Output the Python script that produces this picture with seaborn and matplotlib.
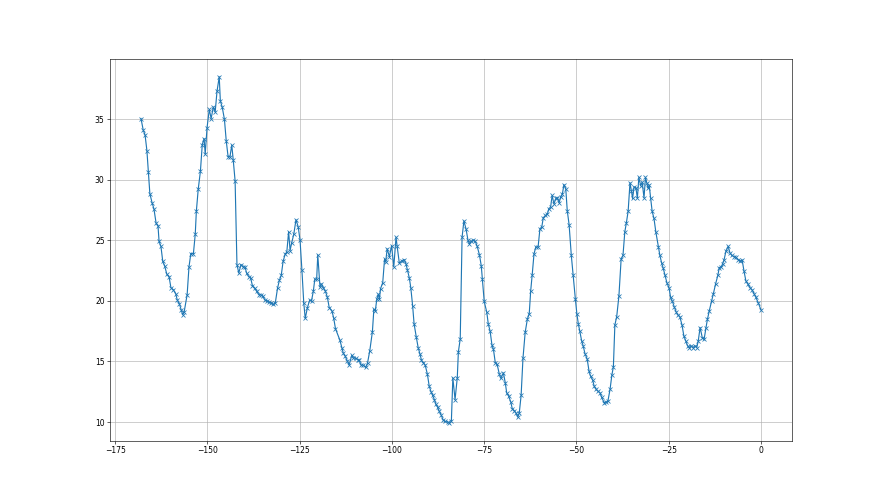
import matplotlib
matplotlib.use("Agg")
import matplotlib.pyplot as plt
import seaborn as sns

# hours before now (x) and reading (y)
hours = [
    -168.0, -167.4, -166.9, -166.4, -166.0, -165.6, -165.0, -164.5, -163.9, -163.4,
    -163.1, -162.6, -162.1, -161.6, -161.0, -160.4, -159.9, -159.2, -158.6, -158.2,
    -157.6, -157.1, -156.7, -156.3, -155.5, -155.0, -154.5, -153.8, -153.3, -153.0,
    -152.5, -151.9, -151.4, -150.9, -150.6, -150.1, -149.5, -149.0, -148.4, -147.9,
    -147.4, -146.8, -146.5, -146.0, -145.4, -144.9, -144.4, -143.9, -143.4, -143.0,
    -142.5, -142.0, -141.5, -140.9, -140.3, -139.8, -139.4, -138.8, -138.3, -137.8,
    -137.2, -136.7, -136.0, -135.6, -135.0, -134.4, -133.8, -133.3, -132.7, -132.2,
    -131.6, -131.0, -130.5, -130.0, -129.5, -128.9, -128.5, -128.0, -127.6, -127.2,
    -126.6, -126.0, -125.4, -124.9, -124.4, -123.9, -123.5, -122.9, -122.3, -121.8,
    -121.3, -120.9, -120.4, -120.1, -119.5, -119.1, -118.6, -118.1, -117.5, -117.0,
    -116.3, -115.8, -115.3, -114.1, -113.6, -113.2, -112.7, -112.1, -111.6, -110.9,
    -110.5, -109.8, -109.3, -108.9, -108.4, -107.8, -107.1, -106.6, -106.0, -105.3,
    -104.9, -104.5, -104.1, -103.7, -103.4, -103.1, -102.5, -102.0, -101.7, -101.3,
    -100.7, -100.1, -99.5, -98.9, -98.6, -98.0, -97.4, -96.7, -96.2, -95.8,
    -95.3, -94.9, -94.4, -94.0, -93.4, -92.9, -92.4, -92.0, -91.5, -91.0,
    -90.4, -89.9, -89.4, -89.0, -88.5, -88.1, -87.6, -87.2, -86.7, -86.1,
    -85.6, -84.9, -84.5, -83.9, -83.5, -82.9, -82.3, -82.0, -81.5, -81.0,
    -80.5, -79.9, -79.4, -79.0, -78.6, -78.0, -77.4, -76.9, -76.3, -75.8,
    -75.5, -75.0, -74.3, -73.9, -73.4, -72.9, -72.5, -72.0, -71.5, -70.9,
    -70.5, -69.8, -69.3, -68.9, -68.4, -67.8, -67.4, -66.9, -66.4, -65.9,
    -65.5, -65.0, -64.5, -63.9, -63.3, -62.8, -62.4, -62.0, -61.5, -61.0,
    -60.4, -59.9, -59.4, -59.0, -58.4, -57.9, -57.5, -57.0, -56.6, -56.1,
    -55.6, -55.2, -54.7, -54.3, -53.8, -53.4, -52.9, -52.5, -52.0, -51.4,
    -50.9, -50.3, -49.9, -49.5, -49.1, -48.6, -48.2, -47.7, -47.1, -46.6,
    -46.2, -45.6, -45.2, -44.7, -44.2, -43.6, -43.2, -42.5, -42.0, -41.5,
    -40.9, -40.4, -40.0, -39.6, -39.1, -38.5, -37.9, -37.4, -36.9, -36.5,
    -36.0, -35.5, -35.1, -34.8, -34.4, -33.9, -33.5, -33.1, -32.6, -32.2,
    -31.7, -31.3, -30.9, -30.6, -30.3, -29.9, -29.5, -29.0, -28.5, -27.8,
    -27.4, -26.9, -26.5, -26.0, -25.5, -24.9, -24.5, -24.0, -23.5, -23.0,
    -22.6, -22.0, -21.4, -20.9, -20.4, -19.9, -19.4, -19.0, -18.4, -17.9,
    -17.4, -17.0, -16.5, -15.9, -15.4, -14.9, -14.5, -14.0, -13.4, -12.9,
    -12.3, -11.7, -11.3, -10.8, -10.4, -10.0, -9.5, -8.9, -8.4, -7.9,
    -7.3, -6.8, -6.2, -5.7, -5.1, -4.6, -4.1, -3.6, -3.0, -2.4,
    -1.9, -1.4, -0.7, 0.0,
]

temps = [
    35.05, 34.1, 33.7, 32.4, 30.6, 28.85, 28.1, 27.6, 26.4, 26.2,
    24.9, 24.5, 23.25, 22.9, 22.2, 22.0, 21.1, 20.9, 20.6, 20.1,
    19.75, 19.25, 18.85, 19.1, 20.5, 22.8, 23.9, 23.9, 25.5, 27.4,
    29.2, 30.7, 32.9, 33.4, 32.1, 34.3, 35.8, 35.05, 36.0, 35.6,
    37.3, 38.5, 36.5, 36.0, 35.0, 33.2, 31.9, 31.9, 32.85, 31.6,
    29.9, 23.0, 22.3, 23.0, 22.8, 22.8, 22.3, 22.0, 21.9, 21.25,
    21.05, 20.8, 20.5, 20.5, 20.4, 20.05, 20.0, 19.9, 19.85, 19.7,
    19.85, 21.05, 21.7, 22.1, 23.25, 23.9, 24.0, 25.7, 24.15, 24.75,
    25.5, 26.7, 26.1, 25.0, 22.55, 19.85, 18.55, 19.45, 20.05, 20.0,
    20.8, 21.8, 21.8, 23.8, 21.15, 21.4, 21.1, 20.85, 20.3, 19.45,
    19.2, 18.6, 17.7, 16.75, 16.15, 15.7, 15.45, 15.05, 14.7, 15.5,
    15.3, 15.25, 15.15, 15.1, 14.7, 14.7, 14.5, 14.9, 15.9, 17.45,
    19.3, 19.2, 20.15, 20.55, 20.15, 21.0, 21.5, 23.45, 23.2, 24.3,
    23.65, 24.55, 22.8, 25.25, 24.55, 23.1, 23.3, 23.4, 23.05, 22.55,
    21.9, 21.1, 19.6, 18.1, 17.0, 16.15, 15.6, 15.1, 14.9, 14.7,
    13.95, 12.95, 12.5, 12.2, 11.85, 11.45, 11.2, 10.9, 10.6, 10.15,
    10.05, 10.0, 9.9, 10.05, 13.65, 11.85, 13.65, 15.8, 16.85, 25.25,
    26.6, 25.9, 25.0, 24.7, 24.9, 25.0, 24.9, 24.5, 23.8, 22.9,
    21.8, 19.95, 19.05, 18.1, 17.5, 16.35, 16.0, 14.9, 14.75, 13.95,
    13.6, 14.05, 13.25, 12.4, 12.15, 11.65, 11.1, 10.95, 10.75, 10.4,
    10.75, 12.2, 15.25, 17.4, 18.5, 18.95, 20.85, 22.15, 23.9, 24.45,
    24.45, 25.95, 26.1, 26.85, 27.05, 27.15, 27.6, 27.75, 28.7, 28.0,
    28.45, 28.5, 28.1, 28.55, 28.85, 29.6, 29.25, 27.45, 26.3, 23.75,
    22.1, 20.15, 18.95, 18.1, 17.5, 16.7, 16.3, 15.65, 15.2, 14.2,
    13.8, 13.45, 12.95, 12.7, 12.55, 12.4, 12.05, 11.6, 11.65, 11.7,
    12.7, 13.9, 14.55, 18.0, 18.7, 20.4, 23.45, 23.75, 25.7, 26.4,
    27.4, 29.75, 29.05, 28.45, 29.4, 29.35, 28.45, 30.2, 29.5, 29.8,
    28.5, 30.2, 29.7, 29.3, 29.55, 28.5, 27.4, 26.8, 25.7, 24.45,
    23.75, 23.1, 22.7, 22.1, 21.5, 21.05, 20.3, 19.95, 19.5, 19.1,
    18.85, 18.7, 18.0, 17.1, 16.7, 16.3, 16.15, 16.3, 16.15, 16.3,
    16.15, 16.7, 17.8, 16.95, 16.85, 17.8, 18.5, 19.2, 19.95, 20.6,
    21.4, 22.1, 22.75, 22.8, 23.05, 23.4, 24.1, 24.5, 23.95, 23.75,
    23.65, 23.6, 23.4, 23.3, 23.35, 22.45, 21.65, 21.4, 21.1, 20.9,
    20.6, 20.3, 19.8, 19.25,
]

fig, ax = plt.subplots(figsize=(16, 9), dpi=55)
sns.lineplot(
    x=hours,
    y=temps,
    estimator=None,
    marker="x",
    color="#1f77b4",
    markeredgecolor="#1f77b4",
    markeredgewidth=1.0,
    markersize=6,
    linewidth=1.5,
    ax=ax,
)
ax.grid(True)
fig.savefig("out.png", dpi=55)
plt.close(fig)
